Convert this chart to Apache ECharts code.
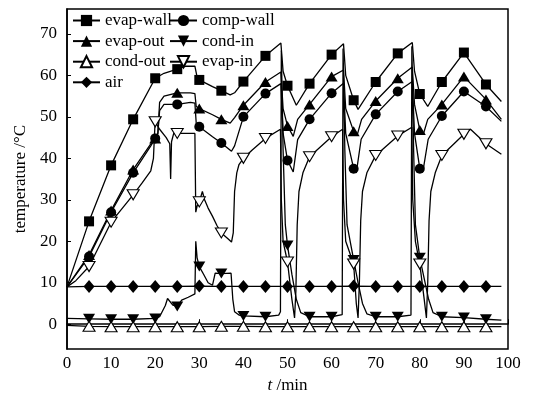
<!DOCTYPE html>
<html><head><meta charset="utf-8">
<script src="https://cdn.jsdelivr.net/npm/echarts@6/dist/echarts.min.js"></script>
<style>html,body{margin:0;padding:0;background:#fff}#c{width:551px;height:399px}</style>
</head><body><div id="c"></div>
<script>
// ---- data (time in min, temperature in °C) ----
const xTicks = [0,10,20,30,40,50,60,70,80,90,100];
const yTicks = [0,10,20,30,40,50,60,70];
const markerTimes = [5,10,15,20,25,30,35,40,45,50,55,60,65,70,75,80,85,90,95];

const evapWall = [[0,9],[5,24.8],[10,38.3],[15,49.4],[20,59.3],[22,60.5],[25,61.5],[27,62.2],[29,62.2],[29.5,59.6],[30,58.9],[33,57.3],[35,56.3],[37,55.3],[38,55.8],[40,58.5],[45,64.7],[48.5,67.8],[49,61],[50,57.5],[52,52.8],[55,58],[60,65],[62.7,67.6],[63.2,60],[65,54],[66,51.8],[70,58.4],[75,65.3],[78.3,67.9],[78.8,61],[80,55.5],[81.8,52.5],[85,58.4],[90,65.5],[95,57.8],[98.5,53.7]];

const compWall = [[0,9],[5,16.3],[10,27],[15,36.5],[19,43],[20,44.8],[20.6,46],[21,51.5],[22,53],[25,53],[28,53.5],[29,53.3],[29.3,48.5],[30,47.6],[33,45.2],[35,43.7],[37.3,41.7],[38,43],[40,50],[45,55.6],[48.5,58],[49,46],[50,39.5],[51.3,36.7],[52.3,44.5],[55,49.4],[60,55.7],[62.7,58.1],[63.2,46],[65,37.5],[65.6,36.5],[66.7,44.6],[70,50.6],[75,56.1],[78.3,58.5],[78.8,46],[80,37.5],[80.7,36.8],[81.9,44.6],[85,50.2],[90,56.1],[95,52.5],[98.5,48.9]];

const evapOut = [[0,9],[5,16.7],[10,27.4],[15,37.3],[19,43.5],[20,44.8],[20.6,46],[21,53.5],[22,55],[25,55.8],[28,55.8],[29,55.6],[29.3,52.5],[30,52],[33,50.5],[35,49.4],[37,48.5],[38,49.8],[40,52.8],[45,58.4],[48.5,60.8],[49,52],[50,47.8],[51.3,45.3],[52.3,49.4],[55,53],[60,59.7],[62.7,61.3],[63.2,52],[65,46.5],[65.8,45.6],[66.8,49.4],[70,53.8],[75,59.3],[78.3,62],[78.8,53],[80,46.8],[80.8,45.8],[81.8,49.4],[85,53],[90,59.7],[95,54.2],[98.5,49.4]];

const condIn = [[0,1.4],[5,1.3],[10,1.2],[15,1.2],[20,1.4],[21,1.8],[22.3,4.5],[22.8,6.2],[24,4.6],[25,4.3],[26,5.8],[27.5,6.5],[29,7.3],[29.2,20],[29.5,16],[30,13.9],[31,12],[32,10],[33,9.4],[33.6,12.3],[35,12.2],[37.2,12.3],[37.6,6],[38,3],[39,2.2],[40,2],[45,1.8],[48,2.2],[48.4,3],[48.6,66],[49,42],[49.5,24],[50,19],[51,12],[52,6],[53,2.8],[55,1.8],[60,1.8],[62.4,2.3],[62.6,66.5],[63,42],[63.5,24],[65,15.5],[66,10],[67,5],[68,2.5],[70,1.8],[75,1.8],[78,2.2],[78.2,67],[78.6,42],[79,24],[80,16],[81,11],[82,6],[83,2.8],[85,1.8],[90,1.6],[95,1.2],[98.5,1.0]];

const condOut = [[0,-0.3],[5,-0.5],[10,-0.6],[15,-0.6],[20,-0.6],[25,-0.6],[30,-0.6],[35,-0.5],[40,-0.5],[45,-0.6],[50,-0.6],[55,-0.6],[60,-0.6],[65,-0.6],[70,-0.6],[75,-0.6],[80,-0.6],[85,-0.6],[90,-0.6],[95,-0.6],[98.5,-0.6]];

const evapIn = [[0,9],[2,10.5],[5,13.9],[10,24.6],[15,31.2],[17,34],[19,37],[19.6,40],[19.9,47],[20,48.8],[21,47],[22.5,45],[23.3,43.5],[23.5,35],[23.7,44],[24.2,46],[25,46],[29,46],[29.2,27],[29.5,28.5],[30,29.5],[30.7,32],[31.2,30],[32,28],[33,26],[34,23.8],[35,22],[36.5,20.6],[37.3,19.8],[37.7,22],[38,32],[38.5,36.5],[39,38.5],[40,40],[42,42],[45,44.8],[48.4,47],[48.6,30],[49,20],[50,15],[51,6],[51.6,1.5],[51.9,8],[52.2,24],[52.6,32],[53.5,36.5],[55,40.4],[60,45.2],[62.5,47],[62.7,30],[63.2,20],[65,14.5],[65.6,5],[66,1.5],[66.3,10],[66.6,25],[67,32],[68,36.5],[70,40.7],[75,45.4],[78.2,47.5],[78.4,30],[79,20],[80,14.5],[81,6],[81.5,1.5],[81.8,10],[82.1,25],[82.5,32],[83.5,36.5],[85,40.7],[90,45.8],[91.5,47],[95,43.5],[98.5,41]];

const air = [[0,9],[5,9.1],[10,9.1],[15,9.1],[20,9.1],[25,9.1],[30,9.2],[35,9.1],[40,9.1],[45,9.1],[50,9.1],[55,9.1],[60,9.1],[65,9.2],[70,9.1],[75,9.1],[80,9.1],[85,9.1],[90,9.1],[95,9.1],[98.5,9.1]];

// ---- chart ----
const FONT = 'Liberation Serif';
const downTri = 'path://M0,0L10,0L5,9Z';

function build(points) {
  return points.map(p => markerTimes.indexOf(p[0]) >= 0 ? [p[0], p[1]] : {value: [p[0], p[1]], symbol: 'none'});
}
function mk(name, pts, symbol, size, open) {
  return {
    name: name, type: 'line', data: build(pts),
    symbol: symbol, symbolSize: size, showSymbol: true,
    lineStyle: {color: '#000', width: 1.3},
    itemStyle: open ? {color: '#fff', borderColor: '#000', borderWidth: 1.1} : {color: '#000', borderColor: '#000', borderWidth: 0},
    emphasis: {disabled: true}, z: 2
  };
}

const legendCommon = {orient: 'vertical', top: 12, padding: 0, itemWidth: 27, itemHeight: 14, itemGap: 3.6,
  textStyle: {fontFamily: FONT, fontSize: 17, color: '#000'}, selectedMode: false};

const chart = echarts.init(document.getElementById('c'), null, {renderer: 'canvas'});
chart.setOption({
  animation: false,
  backgroundColor: '#fff',
  textStyle: {fontFamily: FONT, color: '#000'},
  grid: {left: 67, right: 43, top: 9, bottom: 45, show: true, borderColor: '#000', borderWidth: 1.5, backgroundColor: 'transparent'},
  legend: [
    Object.assign({data: ['evap-wall', 'evap-out', 'cond-out', 'air'], left: 72}, legendCommon),
    Object.assign({data: ['comp-wall', 'cond-in', 'evap-in'], left: 169}, legendCommon)
  ],
  xAxis: {
    type: 'value', min: 0, max: 100, interval: 10,
    name: '{i|t} /min', nameLocation: 'middle', nameGap: 24,
    nameTextStyle: {fontFamily: FONT, fontSize: 17, color: '#000', rich: {i: {fontFamily: FONT, fontSize: 17, fontStyle: 'italic', color: '#000'}}},
    axisLine: {show: true, lineStyle: {color: '#000', width: 1.5}},
    axisTick: {show: true, inside: true, length: 5, lineStyle: {color: '#000'}, customValues: xTicks},
    axisLabel: {fontFamily: FONT, fontSize: 17, color: '#000', margin: 6, customValues: xTicks},
    splitLine: {show: false}
  },
  yAxis: {
    type: 'value', min: -6, max: 76,
    name: 'temperature /°C', nameLocation: 'middle', nameGap: 34, nameRotate: 90,
    nameTextStyle: {fontFamily: FONT, fontSize: 17, color: '#000'},
    axisLine: {show: true, lineStyle: {color: '#000', width: 1.5}},
    axisTick: {show: true, inside: true, length: 4, lineStyle: {color: '#000'}, customValues: yTicks},
    axisLabel: {fontFamily: FONT, fontSize: 17, color: '#000', margin: 10, customValues: yTicks},
    splitLine: {show: false}
  },
  series: [
    mk('evap-wall', evapWall, 'rect', 10, false),
    mk('comp-wall', compWall, 'circle', 10, false),
    mk('evap-out', evapOut, 'triangle', [12, 10], false),
    mk('cond-in', condIn, downTri, [12, 10], false),
    mk('cond-out', condOut, 'triangle', [12, 10], true),
    mk('evap-in', evapIn, downTri, [12, 10], true),
    mk('air', air, 'diamond', [11, 13], false)
  ]
});
</script>
</body></html>
